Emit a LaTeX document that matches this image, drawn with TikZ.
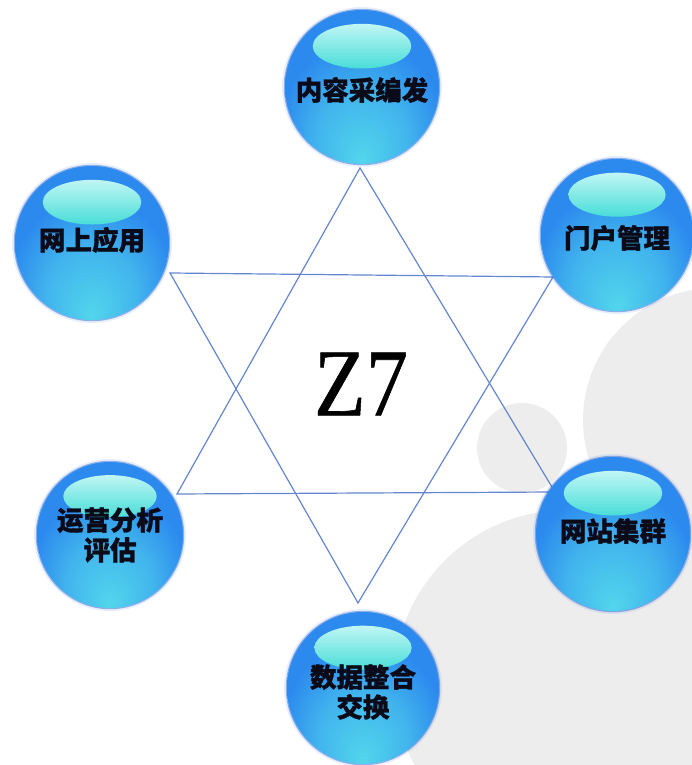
\documentclass[tikz,border=0pt]{standalone}
\usepackage{fontspec}
\newfontfamily\cjk{Noto Sans CJK SC}[BoldFeatures={FakeBold=1.2}]
\newfontfamily\zfont{Liberation Serif}[FakeBold=0.6]
\definecolor{bglow}{HTML}{52D6EC}
\definecolor{bmid}{HTML}{2C8AEE}
\definecolor{brim}{HTML}{1C60D8}
\definecolor{hitop}{HTML}{C0F6F4}
\definecolor{hibot}{HTML}{48DDD8}
\definecolor{bggray}{HTML}{EDEDED}
\definecolor{starline}{HTML}{6486CF}
\definecolor{txtcol}{HTML}{0A0A18}
\pgfdeclareradialshading{bubblebody}{\pgfpoint{0bp}{-24bp}}{%
  color(0bp)=(bglow); color(15bp)=(bglow!55!bmid); color(26bp)=(bmid);
  color(39bp)=(bmid); color(46bp)=(brim); color(50bp)=(brim!90!black)}
\tikzset{
  bubtext/.style={circle, minimum size=#1, inner sep=0pt, align=center,
    text=txtcol, font=\cjk\bfseries\fontsize{26.5}{30}\selectfont},
  starstroke/.style={draw=starline, line width=1.2pt, line join=miter},
  graybg/.style={fill=bggray}
}
\newcommand\mybubble[4]{% x, y, r, dummy
  \fill[brim, opacity=0.10] (#1,#2) circle (#3+3);
  \fill[brim, opacity=0.45] (#1,#2) circle (#3+1.2);
  \shade[shading=bubblebody] (#1,#2) circle (#3);
  \shade[top color=hitop, bottom color=hibot] (#1,#2+0.53*#3) ellipse (0.64*#3 and 0.29*#3);
}
\begin{document}
\begin{tikzpicture}[x=1pt,y=1pt]
\useasboundingbox (0,0) rectangle (692,765);
% background grey shapes
\begin{scope}
  \clip (0,0) rectangle (692,765);
  \fill[graybg] (715,345) circle (132);
  \fill[graybg] (522,317) circle (45);
  \fill[graybg] (567,82) circle (173);
  \fill[graybg] (600,0) rectangle (692,260);
\end{scope}
% star vertices
\coordinate (A) at (360,597);
\coordinate (B) at (177,271);
\coordinate (C) at (555,273);
\coordinate (D) at (170,492);
\coordinate (E) at (553,488);
\coordinate (F) at (358,162);
\draw[starstroke] (A) -- (B) -- (C) -- cycle;
\draw[starstroke] (D) -- (E) -- (F) -- cycle;
% bubbles
\mybubble{362}{678}{77}{}
\mybubble{92}{522}{77}{}
\mybubble{617}{530}{76}{}
\mybubble{110}{230}{73}{}
\mybubble{613}{231}{77}{}
\mybubble{363}{77}{76}{}
\node[bubtext=154pt] (n1) at (362,675) {内容采编发};
\node[bubtext=154pt] (n2) at (92,525) {网上应用};
\node[bubtext=152pt] (n3) at (617,527) {门户管理};
\node[bubtext=146pt] (n4) at (110,230) {运营分析\\评估};
\node[bubtext=154pt] (n5) at (613,234) {网站集群};
\node[bubtext=152pt] (n6) at (363,73) {数据整合\\交换};
% centre label
\node[inner sep=0pt, text=black, font=\zfont\fontsize{96}{96}\selectfont] (z7) at (361,381) {\scalebox{0.88}[1]{Z7}};
\end{tikzpicture}
\end{document}
